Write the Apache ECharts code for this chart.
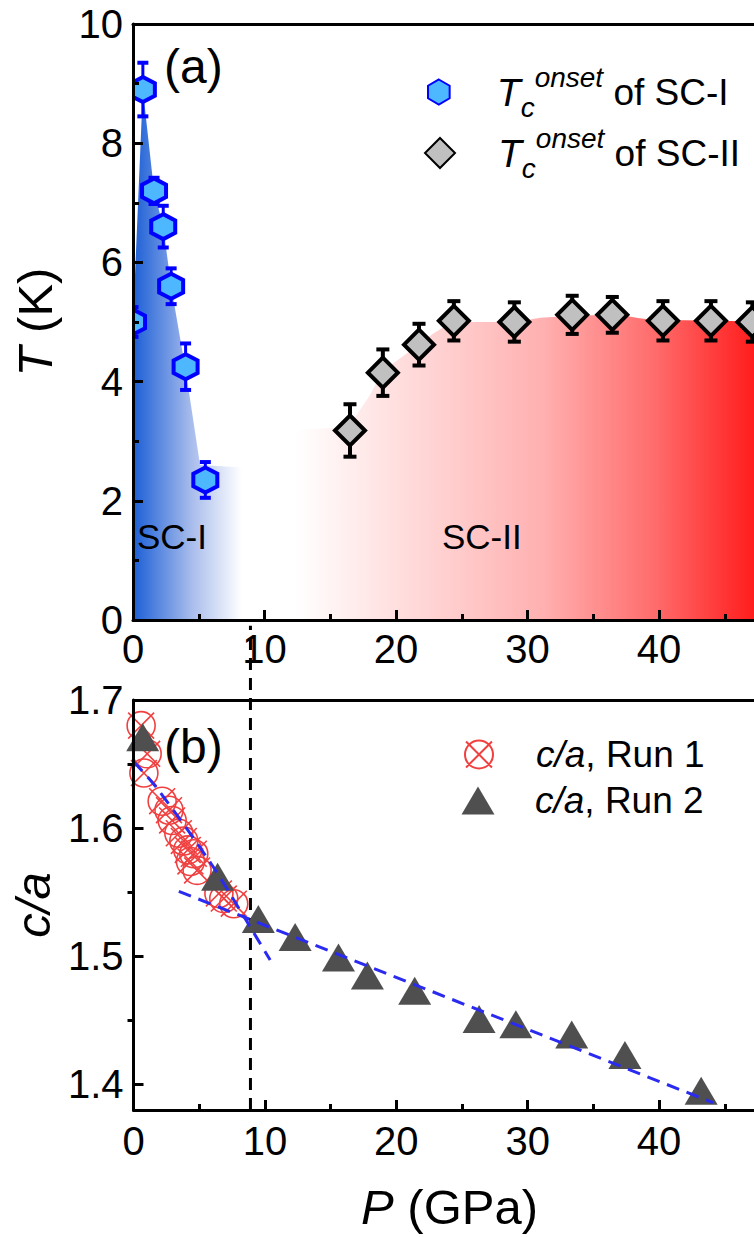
<!DOCTYPE html>
<html><head><meta charset="utf-8">
<script src="https://cdn.jsdelivr.net/npm/echarts@6/dist/echarts.min.js"></script>
<style>html,body{margin:0;padding:0;overflow:hidden;background:#fff}#c{width:800px;height:1237px}</style>
</head><body><div id="c"></div><script>
// ---- data ----
const SC1_P   = [0.0, 0.75, 1.6, 2.3, 2.9, 4.0, 5.5];
const SC1_T   = [5.0, 8.9, 7.2, 6.6, 5.6, 4.25, 2.35];
const SC1_ERR = [0.25, 0.45, 0.22, 0.35, 0.3, 0.39, 0.3];
const SC2_P   = [16.5, 19.0, 21.75, 24.4, 29.0, 33.4, 36.45, 40.3, 43.95, 47.1];
const SC2_T   = [3.18, 4.15, 4.62, 5.02, 5.0, 5.12, 5.12, 5.02, 5.02, 5.0];
const SC2_ERR = [0.44, 0.39, 0.35, 0.33, 0.33, 0.32, 0.3, 0.33, 0.33, 0.33];
const SC1_EDGE_P = [0.0, 0.75, 1.6, 2.3, 2.9, 4.0, 5.1, 9.0];
const SC1_EDGE_T = [5.0, 8.9, 7.2, 6.6, 5.6, 4.2, 2.6, 2.55];
const SC2_EDGE_P = [12.4, 16.0, 17.8, 19.0, 21.0, 23.3, 24.9, 29.0, 31.0, 33.4, 36.5, 39.0, 44.0, 50.0];
const SC2_EDGE_T = [3.2, 3.25, 3.7, 4.15, 4.5, 4.87, 5.0, 5.0, 5.07, 5.1, 5.12, 5.05, 5.02, 5.0];
const RUN1_P  = [0.58, 1.04, 0.79, 2.18, 2.7, 2.94, 3.45, 3.83, 4.13, 4.59, 4.33, 4.84, 6.5, 6.87, 7.63];
const RUN1_CA = [1.680, 1.658, 1.643, 1.621, 1.614, 1.606, 1.596, 1.590, 1.583, 1.580, 1.574, 1.567, 1.549, 1.545, 1.541];
const RUN2_P  = [0.7, 6.4, 9.5, 12.3, 15.6, 17.8, 21.4, 26.3, 29.1, 33.35, 37.4, 43.2];
const RUN2_CA = [1.671, 1.562, 1.529, 1.515, 1.499, 1.485, 1.473, 1.451, 1.447, 1.439, 1.423, 1.395];
const FIT1_P  = [0.0, 1.8, 5.86, 8.4, 10.4];
const FIT1_CA = [1.652, 1.631, 1.573, 1.531, 1.497];
const FIT2_P  = [3.45, 44.1];
const FIT2_CA = [1.5507, 1.3857];
const DIVIDER_P = 8.9;
const DIVIDER_CA = [1.38, 1.758];
const X_TICKS = [0, 10, 20, 30, 40];
const CA_TICKS = [1.4, 1.5, 1.6, 1.7];
const CA_MINOR = [1.45, 1.55, 1.65];

const FF = 'Liberation Sans, Arial, sans-serif';
const zip = (a, b, c) => a.map((v, i) => c ? [v, b[i], c[i]] : [v, b[i]]);

const HEX = 'path://M0,-10 L8.66,-5 L8.66,5 L0,10 L-8.66,5 L-8.66,-5 Z';
const OX = 'path://M10,50 A40,40 0 1,1 90,50 A40,40 0 1,1 10,50 Z M13,13 L87,87 M87,13 L13,87';
const HEX_W = 12, HEX_H = 12.5;

function errBars(color, lw, capLw, cap) {
  return function (params, api) {
    const x = api.value(0), y = api.value(1), e = api.value(2);
    const a = api.coord([x, y + e]), b = api.coord([x, y - e]);
    return {type: 'group', children: [
      {type: 'line', shape: {x1: a[0], y1: a[1], x2: b[0], y2: b[1]}, style: {stroke: color, lineWidth: lw}},
      {type: 'line', shape: {x1: a[0] - cap / 2, y1: a[1], x2: a[0] + cap / 2, y2: a[1]}, style: {stroke: color, lineWidth: capLw}},
      {type: 'line', shape: {x1: b[0] - cap / 2, y1: b[1], x2: b[0] + cap / 2, y2: b[1]}, style: {stroke: color, lineWidth: capLw}}
    ]};
  };
}
function hexRender(params, api) {
  const p = api.coord([api.value(0), api.value(1)]);
  const pts = [[0, -HEX_H], [HEX_W, -HEX_H / 2], [HEX_W, HEX_H / 2], [0, HEX_H], [-HEX_W, HEX_H / 2], [-HEX_W, -HEX_H / 2]]
    .map(q => [p[0] + q[0], p[1] + q[1]]);
  return {type: 'polygon', shape: {points: pts}, style: {fill: '#4db8ff', stroke: '#0000ff', lineWidth: 4}};
}

const axisLine = {lineStyle: {color: '#000', width: 3}};
const tickStyle = {lineStyle: {color: '#000', width: 3}};
const labelBase = {color: '#000', fontSize: 40, fontFamily: FF};

const RICH_A = {
  sp: {width: 41},
  T: {fontSize: 39, fontStyle: 'italic', fontFamily: FF, color: '#000', lineHeight: 58, verticalAlign: 'middle'},
  c: {fontSize: 28, fontStyle: 'italic', fontFamily: FF, color: '#000', lineHeight: 26, verticalAlign: 'bottom'},
  o: {fontSize: 28, fontStyle: 'italic', fontFamily: FF, color: '#000', lineHeight: 42, verticalAlign: 'top'},
  t: {fontSize: 37, fontFamily: FF, color: '#000', lineHeight: 58, verticalAlign: 'middle'}
};
const RICH_B = {
  sp1: {width: 38}, sp2: {width: 35.5},
  i: {fontSize: 37, fontStyle: 'italic', fontFamily: FF, color: '#000', lineHeight: 42},
  t: {fontSize: 37, fontFamily: FF, color: '#000', lineHeight: 42}
};
const nameRich = {i: {fontSize: 49, fontStyle: 'italic', color: '#000', fontFamily: FF, lineHeight: 50}};

const topAxis = (gi) => ({type: 'value', gridIndex: gi, position: 'top', z: 10, min: 0, max: 50,
  axisLine: axisLine, axisTick: {show: false}, axisLabel: {show: false}, splitLine: {show: false}});

const option = {
  animation: false,
  textStyle: {fontFamily: FF},
  title: [
    {text: '(a)', left: 164, top: 42, padding: 0, textStyle: {fontSize: 48, fontWeight: 'normal', color: '#000', fontFamily: FF}},
    {text: '(b)', left: 164, top: 722, padding: 0, textStyle: {fontSize: 48, fontWeight: 'normal', color: '#000', fontFamily: FF}},
    {text: 'SC-I', left: 137, top: 519, padding: 0, textStyle: {fontSize: 35, fontWeight: 'normal', color: '#000', fontFamily: FF}},
    {text: 'SC-II', left: 442, top: 519, padding: 0, textStyle: {fontSize: 35, fontWeight: 'normal', color: '#000', fontFamily: FF}}
  ],
  legend: [
    {data: ['SC-I'], left: 427, top: 63, padding: 0, itemWidth: 24, itemHeight: 25, selectedMode: false,
     formatter: () => '{sp|}{T|T}{c|c}{o|onset}{t| of SC-I}', textStyle: {rich: RICH_A}},
    {data: ['SC-II'], left: 424, top: 124, padding: 0, itemWidth: 30, itemHeight: 30, selectedMode: false,
     formatter: () => '{sp|}{T|T}{c|c}{o|onset}{t| of SC-II}', textStyle: {rich: Object.assign({}, RICH_A, {sp: {width: 38}})}},
    {data: ['Run 1'], left: 464, top: 736, padding: 0, itemWidth: 28, itemHeight: 28, selectedMode: false,
     formatter: () => '{sp1|}{i|c/a}{t|, Run 1}', textStyle: {rich: RICH_B}},
    {data: ['Run 2'], left: 461.5, top: 782, padding: 0, itemWidth: 33, itemHeight: 28, selectedMode: false,
     formatter: () => '{sp2|}{i|c/a}{t|, Run 2}', textStyle: {rich: RICH_B}}
  ],
  grid: [
    {left: 133, top: 24, width: 657.5, height: 596, show: false},
    {left: 133, top: 700, width: 657.5, height: 410, show: false}
  ],
  xAxis: [
    {type: 'value', gridIndex: 0, z: 10, min: 0, max: 50, interval: 10, axisLine: axisLine,
     axisTick: Object.assign({inside: true, length: 10}, tickStyle),
     minorTick: {show: true, splitNumber: 2, length: 6, lineStyle: {color: '#000', width: 3}},
     splitLine: {show: false},
     axisLabel: Object.assign({margin: 9, formatter: v => X_TICKS.includes(v) ? String(v) : ''}, labelBase)},
    {type: 'value', gridIndex: 1, z: 10, min: 0, max: 50, interval: 10, axisLine: axisLine,
     axisTick: Object.assign({inside: true, length: 10}, tickStyle),
     minorTick: {show: true, splitNumber: 2, length: 6, lineStyle: {color: '#000', width: 3}},
     splitLine: {show: false},
     axisLabel: Object.assign({margin: 11, formatter: v => X_TICKS.includes(v) ? String(v) : ''}, labelBase),
     name: '{i|P} (GPa)', nameLocation: 'middle', nameGap: 72,
     nameTextStyle: {fontSize: 49, lineHeight: 50, color: '#000', fontFamily: FF, padding: [0, 25, 0, 0], rich: nameRich}},
    topAxis(0), topAxis(1)
  ],
  yAxis: [
    {type: 'value', gridIndex: 0, z: 10, min: 0, max: 10, interval: 2, axisLine: axisLine,
     axisTick: Object.assign({inside: true, length: 10}, tickStyle),
     minorTick: {show: true, splitNumber: 2, length: 6, lineStyle: {color: '#000', width: 3}},
     splitLine: {show: false},
     axisLabel: Object.assign({margin: 10}, labelBase),
     name: '{i|T} (K)', nameLocation: 'middle', nameRotate: 90, nameGap: 73,
     nameTextStyle: {fontSize: 49, color: '#000', fontFamily: FF, rich: nameRich}},
    {type: 'value', gridIndex: 1, z: 10, min: 1.38, max: 1.70, axisLine: axisLine,
     axisTick: Object.assign({inside: true, length: 10, customValues: CA_TICKS}, tickStyle),
     splitLine: {show: false},
     axisLabel: Object.assign({margin: 10, customValues: CA_TICKS, formatter: v => v.toFixed(1)}, labelBase),
     name: '{i|c/a}', nameLocation: 'middle', nameRotate: 90, nameGap: 73,
     nameTextStyle: {fontSize: 49, color: '#000', fontFamily: FF, rich: nameRich}},
    {type: 'value', gridIndex: 1, z: 10, min: 1.38, max: 1.70, axisLine: {show: false},
     axisTick: Object.assign({inside: true, length: 6, customValues: CA_MINOR}, tickStyle),
     splitLine: {show: false}, axisLabel: {show: false}}
  ],
  series: [
    {type: 'line', xAxisIndex: 0, yAxisIndex: 0, data: zip(SC1_EDGE_P, SC1_EDGE_T), symbol: 'none', silent: true, z: 1,
     lineStyle: {width: 0}, areaStyle: {opacity: 1, color: {type: 'linear', x: 0, y: 0, x2: 1, y2: 0,
       colorStops: [{offset: 0, color: '#1c5fd6'}, {offset: 0.5, color: '#a9bdec'}, {offset: 0.92, color: '#ffffff'}, {offset: 1, color: '#ffffff'}]}}},
    {type: 'line', xAxisIndex: 0, yAxisIndex: 0, data: zip(SC2_EDGE_P, SC2_EDGE_T), symbol: 'none', silent: true, z: 1, smooth: 0.3,
     lineStyle: {width: 0}, areaStyle: {opacity: 1, color: {type: 'linear', x: 0, y: 0, x2: 1, y2: 0,
       colorStops: [{offset: 0, color: '#ffffff'}, {offset: 0.2, color: '#ffdfdf'}, {offset: 0.5, color: '#ffb0b0'}, {offset: 0.73, color: '#ff6a6a'}, {offset: 1, color: '#ff0000'}]}}},
    {type: 'custom', xAxisIndex: 0, yAxisIndex: 0, z: 3, silent: true, clip: true, data: zip(SC1_P, SC1_T, SC1_ERR),
     encode: {x: 0, y: 1}, renderItem: errBars('#0000ff', 3, 4, 11)},
    {type: 'custom', xAxisIndex: 0, yAxisIndex: 0, z: 3, silent: true, data: zip(SC2_P, SC2_T, SC2_ERR),
     encode: {x: 0, y: 1}, renderItem: errBars('#000000', 4, 4, 13)},
    {type: 'custom', xAxisIndex: 0, yAxisIndex: 0, z: 4, silent: true, clip: true, data: zip(SC1_P, SC1_T),
     encode: {x: 0, y: 1}, renderItem: hexRender},
    {name: 'SC-I', type: 'scatter', xAxisIndex: 0, yAxisIndex: 0, z: 4, data: [],
     symbol: HEX, symbolSize: [24, 25], itemStyle: {color: '#4db8ff', borderColor: '#0000ff', borderWidth: 4, opacity: 1}},
    {name: 'SC-II', type: 'scatter', xAxisIndex: 0, yAxisIndex: 0, z: 4, data: zip(SC2_P, SC2_T),
     symbol: 'diamond', symbolSize: [30, 30], itemStyle: {color: '#c0c0c0', borderColor: '#000000', borderWidth: 4, opacity: 1}},
    {type: 'line', xAxisIndex: 1, yAxisIndex: 1, z: 1, clip: false, silent: true, symbol: 'none',
     data: DIVIDER_CA.map(v => [DIVIDER_P, v]), lineStyle: {color: '#000', width: 3, type: [12, 8]}},
    {name: 'Run 1', type: 'scatter', xAxisIndex: 1, yAxisIndex: 1, z: 2, data: zip(RUN1_P, RUN1_CA),
     symbol: OX, symbolSize: 28, itemStyle: {color: 'rgba(0,0,0,0)', borderColor: '#f04040', borderWidth: 1.6, opacity: 1}},
    {name: 'Run 2', type: 'scatter', xAxisIndex: 1, yAxisIndex: 1, z: 3, data: zip(RUN2_P, RUN2_CA),
     symbol: 'triangle', symbolSize: [33, 28], itemStyle: {color: '#4f4f4f', opacity: 1}},
    {type: 'line', xAxisIndex: 1, yAxisIndex: 1, z: 5, silent: true, symbol: 'none', smooth: 0.3,
     data: zip(FIT1_P, FIT1_CA), lineStyle: {color: '#2a2af0', width: 3, type: [13, 8]}},
    {type: 'line', xAxisIndex: 1, yAxisIndex: 1, z: 5, silent: true, symbol: 'none',
     data: zip(FIT2_P, FIT2_CA), lineStyle: {color: '#2a2af0', width: 3, type: [13, 8]}}
  ]
};
const chart = echarts.init(document.getElementById('c'), null, {renderer: 'svg'});
chart.setOption(option);
</script></body></html>
